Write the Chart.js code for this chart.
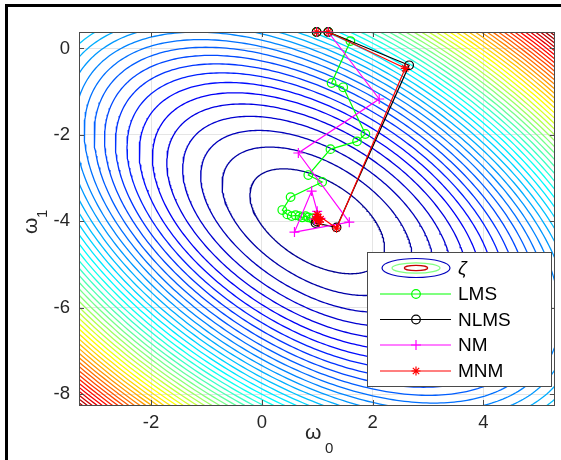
<!DOCTYPE html>
<html><head><meta charset="utf-8">
<script src="https://cdn.jsdelivr.net/npm/chart.js@4"></script>
<style>html,body{margin:0;padding:0;background:#fff}#wrap{position:relative;width:561px;height:460px}</style>
</head><body><div id="wrap"><canvas id="c" width="561" height="460"></canvas></div>
<script>
// ---- axes ----
const xRange = [-3.3, 5.29];
const yRange = [-8.25, 0.38];
const xTicks = [-2, 0, 2, 4];
const yTicks = [-8, -6, -4, -2, 0];

// ---- cost surface zeta(w) = (w - wOpt)^T R (w - wOpt) ----
const wOpt = [1, -4];
const Rmat = [[1, 0.5], [0.5, 1]];
const levelCount = 50;

// ---- weight trajectories (omega0, omega1) ----
const lmsW0 = [0.99, 1.20, 1.60, 1.26, 1.47, 1.87, 1.72, 1.24, 0.84, 1.09, 0.52, 0.37, 0.46, 0.54, 0.61, 0.68, 0.73, 0.79, 0.84, 0.90, 0.93];
const lmsW1 = [0.38, 0.38, 0.17, -0.80, -0.90, -1.98, -2.15, -2.33, -2.93, -3.09, -3.44, -3.74, -3.84, -3.88, -3.86, -3.88, -3.91, -3.88, -3.91, -3.93, -3.93];
const nlmsW0 = [0.99, 1.20, 2.66, 1.35, 0.97, 0.99];
const nlmsW1 = [0.38, 0.38, -0.39, -4.14, -4.04, -4.00];
const nmW0 = [0.99, 1.20, 2.12, 0.66, 1.58, 0.59, 0.90, 1.00, 0.95, 1.06, 1.00];
const nmW1 = [0.38, 0.38, -1.17, -2.42, -4.02, -4.25, -3.30, -3.77, -3.95, -3.93, -3.90];
const mnmW0 = [0.99, 1.20, 2.59, 1.35, 1.00, 1.06, 0.97, 1.04, 1.00];
const mnmW1 = [0.38, 0.38, -0.46, -4.16, -3.84, -3.95, -3.95, -4.02, -3.90];

const seriesNames = ['LMS', 'NLMS', 'NM', 'MNM'];
const contourLabel = 'ζ';

function clamp(v){ return Math.max(0, Math.min(1, v)); }
function jet(t){
  const r = clamp(1.5 - Math.abs(4*t - 3)), g = clamp(1.5 - Math.abs(4*t - 2)), b = clamp(1.5 - Math.abs(4*t - 1));
  return 'rgb(' + Math.round(r*255) + ',' + Math.round(g*255) + ',' + Math.round(b*255) + ')';
}
function zeta(x, y){
  const dx = x - wOpt[0], dy = y - wOpt[1];
  return Rmat[0][0]*dx*dx + 2*Rmat[0][1]*dx*dy + Rmat[1][1]*dy*dy;
}
// eigen decomposition of R for the level-set ellipses
const a = Rmat[0][0], b = Rmat[0][1], c = Rmat[1][1];
const m = (a + c)/2, d = Math.sqrt(((a - c)/2)**2 + b*b);
const l1 = m + d, l2 = m - d;
let v1 = Math.abs(b) > 1e-12 ? [b, l1 - a] : [1, 0];
const n1 = Math.hypot(v1[0], v1[1]); v1 = [v1[0]/n1, v1[1]/n1];
const v2 = [-v1[1], v1[0]];
const zMax = Math.max(zeta(xRange[0], yRange[0]), zeta(xRange[0], yRange[1]), zeta(xRange[1], yRange[0]), zeta(xRange[1], yRange[1]));
const zMin = 0;
const step = (zMax - zMin) / (levelCount + 1);

const datasets = [];
for (let k = 1; k <= levelCount; k++) {
  const L = zMin + k*step;
  const s = Math.sqrt(L);
  const pts = [];
  const N = 360;
  for (let i = 0; i <= N; i++) {
    const t = 2*Math.PI*i/N;
    const p = Math.cos(t)/Math.sqrt(l1), q = Math.sin(t)/Math.sqrt(l2);
    pts.push({x: wOpt[0] + s*(p*v1[0] + q*v2[0]), y: wOpt[1] + s*(p*v1[1] + q*v2[1])});
  }
  datasets.push({label: contourLabel, data: pts, showLine: true, borderColor: jet((L - zMin)/(zMax - zMin)),
    borderWidth: 1.3, pointRadius: 0, tension: 0, order: 10, isContour: true});
}
function mk(xs, ys){ return xs.map((v, i) => ({x: v, y: ys[i]})); }
const pathDefs = [
  {name: seriesNames[0], data: mk(lmsW0, lmsW1), color: '#00ff00', style: 'circle', r: 4.3, order: 3},
  {name: seriesNames[1], data: mk(nlmsW0, nlmsW1), color: '#000000', style: 'circle', r: 4.3, order: 2},
  {name: seriesNames[2], data: mk(nmW0, nmW1), color: '#ff00ff', style: 'cross', r: 5, order: 1},
  {name: seriesNames[3], data: mk(mnmW0, mnmW1), color: '#ff0000', style: 'star', r: 4.5, order: 0}
];
pathDefs.forEach(p => datasets.push({label: p.name, data: p.data, showLine: true, borderColor: p.color, borderWidth: 1.2,
  pointStyle: p.style, pointRadius: p.r, pointBorderColor: p.color, pointBackgroundColor: 'rgba(0,0,0,0)',
  pointBorderWidth: 1.2, tension: 0, clip: false, order: p.order, isPath: true}));

const FONT = '"Liberation Sans", Arial, sans-serif';

function drawMarker(ctx, style, x, y, r, color){
  ctx.save(); ctx.strokeStyle = color; ctx.lineWidth = 1.2; ctx.beginPath();
  if (style === 'circle') { ctx.arc(x, y, r, 0, 2*Math.PI); }
  else if (style === 'cross') { ctx.moveTo(x - r, y); ctx.lineTo(x + r, y); ctx.moveTo(x, y - r); ctx.lineTo(x, y + r); }
  else if (style === 'star') {
    ctx.moveTo(x - r, y); ctx.lineTo(x + r, y); ctx.moveTo(x, y - r); ctx.lineTo(x, y + r);
    const e = r*0.7071; ctx.moveTo(x - e, y - e); ctx.lineTo(x + e, y + e); ctx.moveTo(x - e, y + e); ctx.lineTo(x + e, y - e);
  }
  ctx.stroke(); ctx.restore();
}

const decor = {
  id: 'decor',
  afterDraw(chart) {
    const ctx = chart.ctx, ca = chart.chartArea, xs = chart.scales.x, ys = chart.scales.y;
    ctx.save();
    // axes box and inward ticks
    ctx.strokeStyle = '#4a4a4a'; ctx.lineWidth = 1;
    ctx.strokeRect(Math.round(ca.left) + 0.5, Math.round(ca.top) + 0.5, Math.round(ca.right - ca.left) - 1, Math.round(ca.bottom - ca.top));
    ctx.beginPath();
    xTicks.forEach(v => { const px = Math.round(xs.getPixelForValue(v)) + 0.5;
      ctx.moveTo(px, ca.bottom); ctx.lineTo(px, ca.bottom - 5); ctx.moveTo(px, ca.top); ctx.lineTo(px, ca.top + 5); });
    yTicks.forEach(v => { const py = Math.round(ys.getPixelForValue(v)) + 0.5;
      ctx.moveTo(ca.left, py); ctx.lineTo(ca.left + 5, py); ctx.moveTo(ca.right, py); ctx.lineTo(ca.right - 5, py); });
    ctx.stroke();
    // axis titles
    ctx.fillStyle = '#262626'; ctx.textBaseline = 'alphabetic'; ctx.textAlign = 'left';
    ctx.font = '21px ' + FONT; ctx.fillText('ω', 305, 439);
    ctx.font = '15px ' + FONT; ctx.fillText('0', 325, 453);
    ctx.save(); ctx.translate(37, 234); ctx.rotate(-Math.PI/2);
    ctx.font = '21px ' + FONT; ctx.fillText('ω', 0, 0);
    ctx.font = '15px ' + FONT; ctx.fillText('1', 16, 10);
    ctx.restore();
    // legend
    const lx = 367.5, ly = 252.5, lw = 184, lh = 134;
    ctx.fillStyle = '#fff'; ctx.fillRect(lx, ly, lw, lh);
    ctx.strokeStyle = '#4a4a4a'; ctx.lineWidth = 1; ctx.strokeRect(lx, ly, lw, lh);
    const textX = 458, lineX0 = 380, lineX1 = 451, markX = 416;
    ctx.textBaseline = 'middle'; ctx.fillStyle = '#000';
    // contour entry
    const cy = 268;
    [[34, 9.5, jet(0.06)], [24, 5.2, jet(0.5)], [11.7, 2.6, jet(0.93)]].forEach(e => {
      ctx.beginPath(); ctx.strokeStyle = e[2]; ctx.lineWidth = 1.2; ctx.ellipse(markX, cy, e[0], e[1], 0, 0, 2*Math.PI); ctx.stroke(); });
    ctx.font = 'italic 19px ' + FONT; ctx.fillText(contourLabel, textX, cy + 1);
    ctx.font = '19px ' + FONT;
    const rows = [294, 319.5, 345, 371];
    chart.data.datasets.filter(ds => ds.isPath).forEach((ds, i) => {
      const y = rows[i];
      ctx.beginPath(); ctx.strokeStyle = ds.borderColor; ctx.lineWidth = 1.2; ctx.moveTo(lineX0, y); ctx.lineTo(lineX1, y); ctx.stroke();
      drawMarker(ctx, ds.pointStyle, markX, y, ds.pointRadius, ds.borderColor);
      ctx.fillStyle = '#000'; ctx.fillText(ds.label, textX, y + 1);
    });
    // outer frame
    ctx.fillStyle = '#000'; ctx.fillRect(5, 4, 3, 456); ctx.fillRect(5, 4, 556, 3);
    ctx.restore();
  }
};

new Chart(document.getElementById('c'), {
  type: 'scatter',
  data: {datasets},
  options: {
    responsive: false, animation: false, events: [],
    layout: {padding: {top: 32, right: 5, left: 0, bottom: 0}},
    plugins: {legend: {display: false}, tooltip: {enabled: false}},
    scales: {
      x: {type: 'linear', min: xRange[0], max: xRange[1],
        afterBuildTicks: s => { s.ticks = xTicks.map(v => ({value: v})); },
        afterFit: s => { s.height = 55; },
        grid: {color: 'rgba(0,0,0,0.1)', drawTicks: false}, border: {display: false},
        ticks: {color: '#262626', font: {size: 18.5, family: FONT}, padding: 7}},
      y: {type: 'linear', min: yRange[0], max: yRange[1],
        afterBuildTicks: s => { s.ticks = yTicks.map(v => ({value: v})); },
        afterFit: s => { s.width = 79; },
        grid: {color: 'rgba(0,0,0,0.1)', drawTicks: false}, border: {display: false},
        ticks: {color: '#262626', font: {size: 18.5, family: FONT}, padding: 9}}
    }
  },
  plugins: [decor]
});
</script></body></html>
